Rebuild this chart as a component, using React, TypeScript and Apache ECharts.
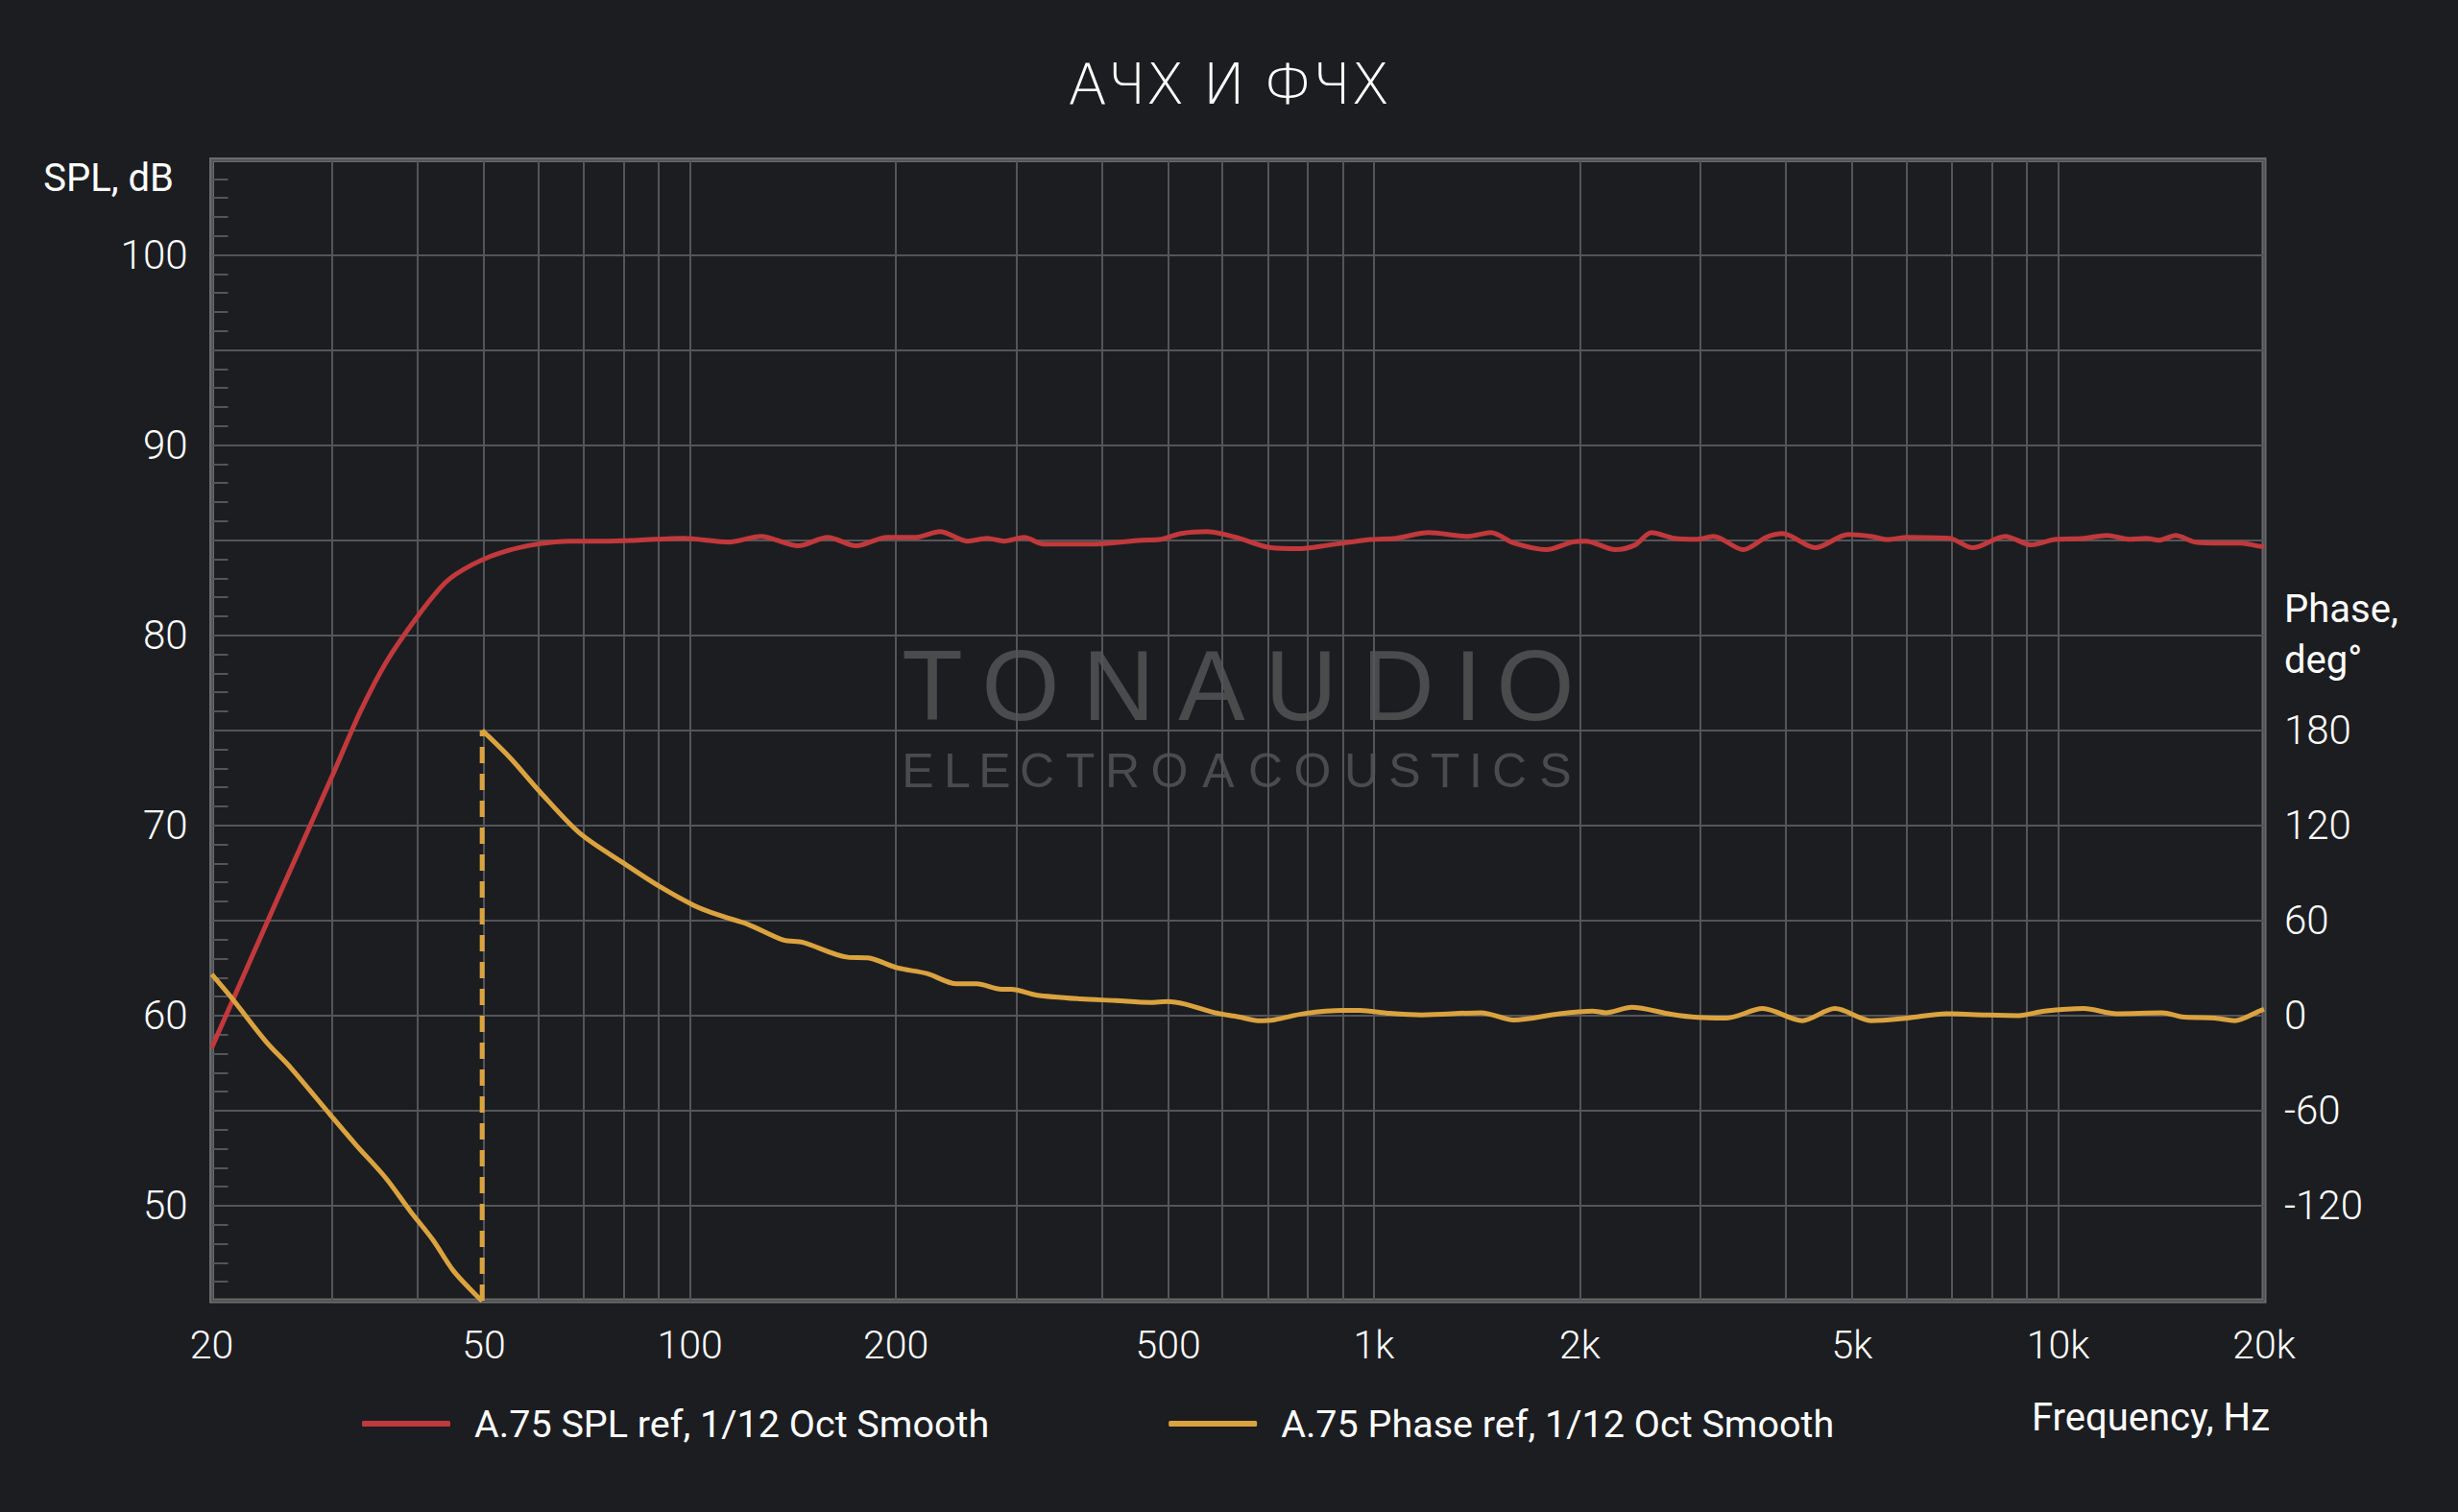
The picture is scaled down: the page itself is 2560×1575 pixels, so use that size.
import React, { useEffect, useRef } from 'react';
import * as echarts from 'echarts';

const TITLE = 'АЧХ И ФЧХ';
const SPL_NAME = 'A.75 SPL ref, 1/12 Oct Smooth';
const PHASE_NAME = 'A.75 Phase ref, 1/12 Oct Smooth';
const SPL_AXIS_NAME = 'SPL, dB';
const PHASE_AXIS_NAME = ['Phase,', 'deg°'];
const FREQ_AXIS_NAME = 'Frequency, Hz';
const WATERMARK_TOP = 'TONAUDIO';
const WATERMARK_BOTTOM = 'ELECTROACOUSTICS';

const SPL_FREQ = [
  20, 25, 30, 33, 36, 40, 44, 48, 53, 60, 67, 75, 84, 98, 114, 127, 144, 159, 175, 194,
  214, 232, 255, 272, 288, 308, 329, 392, 457, 489, 522, 570, 628, 708, 773, 863, 986, 1077, 1202, 1372, 1482,
  1601, 1787, 1950, 2040, 2254, 2408, 2544, 2748, 2968, 3136, 3466, 3742, 3954, 4416, 4932, 5326, 5628, 6012,
  6936, 7498, 8368, 9140, 9876, 10906, 11780, 12726, 13444, 14052, 14850, 15866, 17330, 18512, 19540, 20000,
];
const SPL_DB = [
  58.3, 66.2, 72.6, 76.0, 78.6, 81.0, 82.8, 83.7, 84.35, 84.8, 84.95, 84.95, 85.0, 85.1, 84.9, 85.2,
  84.7, 85.15, 84.7, 85.15, 85.15, 85.45, 84.95, 85.1, 84.95, 85.15, 84.8, 84.8, 85.0, 85.05, 85.35, 85.45, 85.15,
  84.6, 84.55, 84.75, 85.03, 85.1, 85.4, 85.2, 85.4, 84.85, 84.5, 84.9, 84.95, 84.5, 84.75, 85.4, 85.1, 85.05,
  85.2, 84.5, 85.15, 85.35, 84.6, 85.3, 85.2, 85.03, 85.15, 85.1, 84.6, 85.2, 84.75, 85.03, 85.1, 85.25, 85.05,
  85.1, 85.0, 85.25, 84.9, 84.85, 84.85, 84.7, 84.65,
];

const PHASE_LOW_FREQ = [20, 21.4, 24, 26.1, 29.9, 32.5, 35.9, 39, 42.1, 45.1, 48.8, 49.7];
const PHASE_LOW_DEG = [26, 11, -16.3, -33, -63.3, -81.6, -102.3, -123.3, -141.5, -161, -176.9, -180];

const WRAP_FREQ = [49.7, 49.7];
const WRAP_DEG = [-180, 180];

const PHASE_FREQ = [
  49.7, 54.7, 60.4, 69.1, 80.3, 90.2, 101.4, 110.2, 121.8, 136.9, 146.3, 170.1, 181.9, 201, 222.2, 245.6, 262.6,
  285.4, 295, 320.6, 372.7, 418.8, 470.9, 499, 529, 585, 634, 677, 716, 790, 902, 953, 1053, 1175, 1434, 1601,
  1868, 2086, 2180, 2380, 2718, 2968, 3278, 3700, 4226, 4718, 5326, 6012, 6862, 7834, 8750, 9552, 10906, 12172,
  14208, 15178, 16944, 18114, 19780, 20000,
];
const PHASE_DEG = [
  180, 162.3, 141.1, 114.9, 95.7, 81.6, 69.5, 63.4, 57.4, 47.7, 46.2, 36.8, 36.4, 30.1, 26.5, 20.0, 20.0, 16.6,
  16.6, 13.0, 10.5, 9.5, 8.3, 8.9, 7.3, 1.8, -0.8, -3.2, -2.6, 1.2, 3.2, 3.2, 1.4, 0.4, 1.8, -2.8, 1.2, 2.8, 1.8,
  5.2, 0.8, -1.2, -1.6, 4.4, -3.2, 4.4, -3.2, -1.6, 1.2, 0.4, 0, 2.8, 4.4, 1.2, 1.8, -0.8, -1.6, -3.2, 3.2, 4,
];

const GRID_FREQS = [
  20, 30, 40, 50, 60, 70, 80, 90, 100, 200, 300, 400, 500, 600, 700, 800, 900, 1000, 2000, 3000, 4000, 5000,
  6000, 7000, 8000, 9000, 10000, 20000,
];
const FREQ_LABELS = [20, 50, 100, 200, 500, 1000, 2000, 5000, 10000, 20000];
const SPL_LABELS = [50, 60, 70, 80, 90, 100];
const PHASE_LABELS = [-120, -60, 0, 60, 120, 180];

const WM_TOP_X = [971, 1063, 1165, 1262, 1355, 1456, 1529, 1599];
const WM_BOTTOM_X = [956, 997, 1036, 1080, 1125, 1169, 1218, 1269, 1318, 1367, 1418, 1463, 1505, 1537, 1572, 1620];

const BG = '#1c1d21';
const GRID_COLOR = '#545558';
const BORDER_COLOR = '#6a6a6b';
const SPL_COLOR = '#c1393c';
const PHASE_COLOR = '#dba33f';
const TEXT = '#ffffff';
const WM_COLOR = '#4a4b4d';
const FONT = 'Roboto, "Noto Sans", sans-serif';
const WM_FONT = '"Liberation Sans", Arial, sans-serif';

const zip = (xs: number[], ys: number[]) => xs.map((x, i) => [x, ys[i]]);
const fmtFreq = (v: number) => (v >= 1000 ? `${v / 1000}k` : `${v}`);

function buildOption() {
  const wmTop = WATERMARK_TOP.split('').map((ch, i) => ({
    type: 'text',
    z: -10,
    x: WM_TOP_X[i],
    y: 714,
    style: {
      text: ch,
      fill: WM_COLOR,
      font: `400 104px ${WM_FONT}`,
      lineHeight: 76,
      align: 'center',
      verticalAlign: 'middle',
    },
  }));
  const wmBottom = WATERMARK_BOTTOM.split('').map((ch, i) => ({
    type: 'text',
    z: -10,
    x: WM_BOTTOM_X[i],
    y: 803,
    style: {
      text: ch,
      fill: WM_COLOR,
      font: `400 50px ${WM_FONT}`,
      lineHeight: 36,
      align: 'center',
      verticalAlign: 'middle',
    },
  }));

  return {
    animation: false,
    backgroundColor: BG,
    title: {
      text: TITLE,
      left: 'center',
      top: 53,
      textStyle: {
        color: TEXT,
        fontSize: 59,
        fontWeight: 200,
        fontFamily: '"DejaVu Sans", "Noto Sans", sans-serif',
      },
    },
    legend: {
      left: 372,
      top: 1458,
      data: [SPL_NAME, PHASE_NAME],
      icon: 'roundRect',
      itemWidth: 92,
      itemHeight: 6,
      itemGap: 187,
      textStyle: { color: TEXT, fontSize: 39.5, fontFamily: FONT, padding: [0, 0, 0, 20] },
    },
    grid: {
      left: 220.5,
      right: 202,
      top: 166.5,
      bottom: 220,
      show: true,
      borderColor: BORDER_COLOR,
      borderWidth: 5,
      backgroundColor: 'transparent',
    },
    xAxis: {
      type: 'log',
      logBase: 10,
      min: 20,
      max: 20000,
      axisLine: { show: false },
      axisTick: { show: false, customValues: GRID_FREQS },
      axisLabel: {
        customValues: FREQ_LABELS,
        formatter: (v: number) => fmtFreq(v),
        color: TEXT,
        fontSize: 41,
        fontFamily: FONT,
        fontWeight: 300,
        margin: 25,
      },
      splitLine: { show: true, lineStyle: { color: GRID_COLOR, width: 2 } },
    },
    yAxis: [
      {
        type: 'value',
        min: 45,
        max: 105,
        interval: 5,
        axisLine: { show: false },
        axisTick: { show: false, inside: true },
        minorTick: { show: true, splitNumber: 5, length: 17, lineStyle: { color: GRID_COLOR, width: 2 } },
        axisLabel: {
          formatter: (v: number) => (SPL_LABELS.includes(v) ? `${v}` : ''),
          color: TEXT,
          fontSize: 42,
          fontFamily: FONT,
          fontWeight: 300,
          margin: 25,
        },
        splitLine: { show: true, lineStyle: { color: GRID_COLOR, width: 2 } },
      },
      {
        type: 'value',
        min: -180,
        max: 540,
        interval: 60,
        position: 'right',
        axisLine: { show: false },
        axisTick: { show: false },
        axisLabel: {
          formatter: (v: number) => (PHASE_LABELS.includes(v) ? `${v}` : ''),
          color: TEXT,
          fontSize: 42,
          fontFamily: FONT,
          fontWeight: 300,
          margin: 21,
        },
        splitLine: { show: false },
      },
    ],
    graphic: [
      ...wmTop,
      ...wmBottom,
      {
        type: 'text',
        x: 181,
        y: 185,
        style: { text: SPL_AXIS_NAME, fill: TEXT, font: `400 40px ${FONT}`, align: 'right', verticalAlign: 'middle' },
      },
      {
        type: 'text',
        x: 2379,
        y: 634,
        style: { text: PHASE_AXIS_NAME[0], fill: TEXT, font: `400 40px ${FONT}`, align: 'left', verticalAlign: 'middle' },
      },
      {
        type: 'text',
        x: 2379,
        y: 687,
        style: { text: PHASE_AXIS_NAME[1], fill: TEXT, font: `400 40px ${FONT}`, align: 'left', verticalAlign: 'middle' },
      },
      {
        type: 'text',
        x: 2364,
        y: 1476,
        style: { text: FREQ_AXIS_NAME, fill: TEXT, font: `400 40px ${FONT}`, align: 'right', verticalAlign: 'middle' },
      },
    ],
    series: [
      {
        name: SPL_NAME,
        type: 'line',
        yAxisIndex: 0,
        data: zip(SPL_FREQ, SPL_DB),
        showSymbol: false,
        symbol: 'none',
        smooth: 0.3,
        color: SPL_COLOR,
        lineStyle: { color: SPL_COLOR, width: 5 },
        z: 3,
      },
      {
        name: PHASE_NAME,
        type: 'line',
        yAxisIndex: 1,
        data: zip(PHASE_LOW_FREQ, PHASE_LOW_DEG),
        showSymbol: false,
        symbol: 'none',
        smooth: 0.3,
        color: PHASE_COLOR,
        lineStyle: { color: PHASE_COLOR, width: 5 },
        z: 4,
      },
      {
        name: PHASE_NAME,
        type: 'line',
        yAxisIndex: 1,
        data: zip(WRAP_FREQ, WRAP_DEG),
        showSymbol: false,
        symbol: 'none',
        color: PHASE_COLOR,
        lineStyle: { color: PHASE_COLOR, width: 5, type: [17, 11] },
        z: 4,
      },
      {
        name: PHASE_NAME,
        type: 'line',
        yAxisIndex: 1,
        data: zip(PHASE_FREQ, PHASE_DEG),
        showSymbol: false,
        symbol: 'none',
        smooth: 0.3,
        color: PHASE_COLOR,
        lineStyle: { color: PHASE_COLOR, width: 5 },
        z: 4,
      },
    ],
  };
}

export default function App() {
  const ref = useRef<HTMLDivElement>(null);
  useEffect(() => {
    if (!ref.current) return;
    const chart = echarts.init(ref.current, null, { renderer: 'svg' });
    chart.setOption(buildOption() as any);
    return () => chart.dispose();
  }, []);
  return (
    <div
      ref={ref}
      style={{ position: 'fixed', left: 0, top: 0, width: 2560, height: 1575, background: BG }}
    />
  );
}
